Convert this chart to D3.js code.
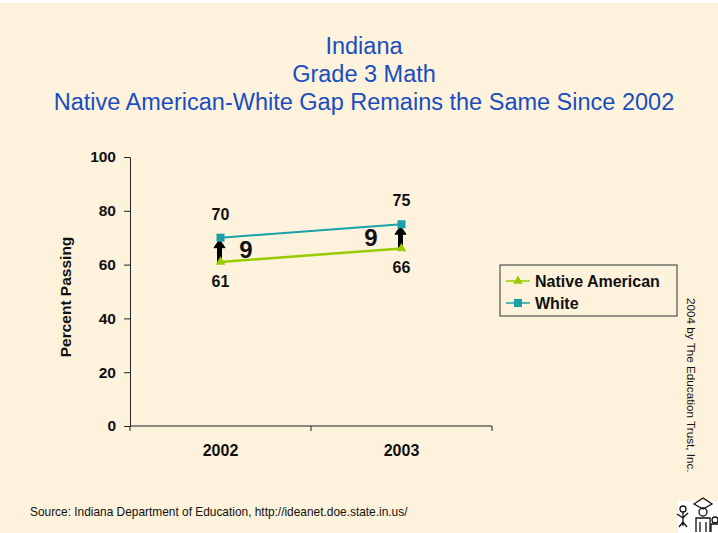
<!DOCTYPE html>
<html>
<head>
<meta charset="utf-8">
<script src="https://cdn.jsdelivr.net/npm/d3@7"></script>
<style>
  body { margin: 0; background: #fff; }
  text { font-family: Arial, "Liberation Sans", sans-serif; }
</style>
</head>
<body>
<script>
const years = ["2002", "2003"];
const nativeAmerican = [61, 66];
const white = [70, 75];
const gaps = [9, 9];
const yTicks = [0, 20, 40, 60, 80, 100];
const titleLines = ["Indiana", "Grade 3 Math", "Native American-White Gap Remains the Same Since 2002"];

const W = 718, H = 533;
const svg = d3.select("body").append("svg")
  .attr("width", W)
  .attr("height", H);

svg.append("rect")
  .attr("x", 0).attr("y", 3)
  .attr("width", W).attr("height", H - 3)
  .attr("fill", "#fdf3dc");

// title
svg.selectAll(".title")
  .data(titleLines)
  .enter().append("text")
  .attr("class", "title")
  .attr("x", 364)
  .attr("y", (d, i) => 54 + i * 28)
  .attr("text-anchor", "middle")
  .style("font-size", "23.5px")
  .style("fill", "#1a4dbf")
  .text(d => d);

const x = d3.scaleBand().domain(years).range([130, 492]);
const y = d3.scaleLinear().domain([0, 100]).range([426, 157]);

const g = svg.append("g");

// y axis
g.append("g")
  .attr("transform", "translate(130,0)")
  .call(d3.axisLeft(y).tickValues(yTicks).tickSize(6).tickPadding(8))
  .call(a => a.selectAll("line, path").attr("stroke", "#222"))
  .call(a => a.selectAll("text").style("font-size", "15.5px").style("font-weight", "bold").attr("fill", "#111"));

// x axis
const xAxis = g.append("g")
  .attr("transform", "translate(0,426)")
  .call(d3.axisBottom(x).tickSize(0).tickPadding(19))
  .call(a => a.select("path").attr("d", "M130,0H492").attr("stroke", "#222"))
  .call(a => a.selectAll("text").style("font-size", "16px").style("font-weight", "bold").attr("fill", "#111"));

xAxis.selectAll(".sep")
  .data([130, 311, 492])
  .enter().append("line")
  .attr("x1", d => d).attr("x2", d => d)
  .attr("y1", 0).attr("y2", 5)
  .attr("stroke", "#222");

svg.append("text")
  .attr("transform", "translate(71,297) rotate(-90)")
  .attr("text-anchor", "middle")
  .style("font-size", "15.5px")
  .style("font-weight", "bold")
  .attr("fill", "#111")
  .text("Percent Passing");

const cx = d => x(d) + x.bandwidth() / 2;

// arrows showing gap
const arrows = g.append("g");
years.forEach((yr, i) => {
  const x0 = cx(yr) - 1;
  const yb = y(nativeAmerican[i]);
  const yt = y(white[i]) + 2;
  arrows.append("path")
    .attr("d", `M${x0 - 2},${yb}V${yt + 8}H${x0 - 5.5}L${x0},${yt}L${x0 + 5.5},${yt + 8}H${x0 + 2}V${yb}Z`)
    .attr("fill", "#000").attr("stroke", "#000").attr("stroke-width", 1);
});

const line = d3.line().x((d, i) => cx(years[i])).y(d => y(d));

g.append("path").datum(white)
  .attr("d", line).attr("fill", "none")
  .attr("stroke", "#1aa0a8").attr("stroke-width", 2);
g.append("path").datum(nativeAmerican)
  .attr("d", line).attr("fill", "none")
  .attr("stroke", "#99cc00").attr("stroke-width", 2.5);

g.selectAll(".sq").data(white).enter().append("rect")
  .attr("x", (d, i) => cx(years[i]) - 4)
  .attr("y", d => y(d) - 4)
  .attr("width", 8).attr("height", 8)
  .attr("fill", "#1aa0a8");

const tri = d3.symbol().type(d3.symbolTriangle).size(40);
g.selectAll(".tri").data(nativeAmerican).enter().append("path")
  .attr("d", tri)
  .attr("transform", (d, i) => `translate(${cx(years[i])},${y(d)})`)
  .attr("fill", "#99cc00");

// value labels
const lbl = (val, xx, yy) => g.append("text")
  .attr("x", xx).attr("y", yy)
  .attr("text-anchor", "middle")
  .style("font-size", "16px").style("font-weight", "bold")
  .attr("fill", "#111").text(val);

white.forEach((v, i) => lbl(v, cx(years[i]), y(v) - 18));
nativeAmerican.forEach((v, i) => lbl(v, cx(years[i]), y(v) + 25));

// gap numbers
const gapPos = [[246, 258], [371, 246]];
gaps.forEach((v, i) => {
  g.append("text")
    .attr("x", gapPos[i][0]).attr("y", gapPos[i][1])
    .attr("text-anchor", "middle")
    .style("font-size", "24px").style("font-weight", "bold")
    .attr("fill", "#111").text(v);
});

// legend
const leg = svg.append("g").attr("transform", "translate(500,265)");
leg.append("rect")
  .attr("width", 177).attr("height", 51)
  .attr("fill", "none").attr("stroke", "#333").attr("stroke-width", 1);
const series = [
  { name: "Native American", color: "#99cc00", shape: "tri" },
  { name: "White", color: "#1aa0a8", shape: "sq" }
];
series.forEach((s, i) => {
  const yy = 16 + i * 22;
  leg.append("line").attr("x1", 6).attr("x2", 30).attr("y1", yy).attr("y2", yy)
    .attr("stroke", s.color).attr("stroke-width", 1.5);
  if (s.shape == "tri") {
    leg.append("path").attr("d", tri).attr("transform", `translate(18,${yy})`).attr("fill", s.color);
  } else {
    leg.append("rect").attr("x", 14).attr("y", yy - 4).attr("width", 8).attr("height", 8).attr("fill", s.color);
  }
  leg.append("text").attr("x", 35).attr("y", yy + 6)
    .style("font-size", "16px").style("font-weight", "bold")
    .attr("fill", "#111").text(s.name);
});

// copyright
svg.append("text")
  .attr("transform", "translate(687,298) rotate(90)")
  .style("font-size", "11.7px")
  .attr("fill", "#111")
  .text("2004 by The Education Trust, Inc.");

// source
svg.append("text")
  .attr("x", 30).attr("y", 516)
  .style("font-size", "11.9px")
  .attr("fill", "#111")
  .text("Source: Indiana Department of Education, http://ideanet.doe.state.in.us/");

// logo (rough sketch)
const logo = svg.append("g").attr("transform", "translate(674,494)")
  .attr("fill", "none").attr("stroke", "#111").attr("stroke-width", 1.3);
logo.append("rect").attr("x", 4).attr("y", 7).attr("width", 40).attr("height", 32).attr("fill", "#fff").attr("stroke", "none");
logo.append("circle").attr("cx", 9).attr("cy", 15).attr("r", 3);
logo.append("path").attr("d", "M9,18V32M3,20L9,24L14,19M5,33L9,28L13,33");
logo.append("path").attr("d", "M20,10L29,4L38,10L29,15Z");
logo.append("circle").attr("cx", 29).attr("cy", 18).attr("r", 4);
logo.append("path").attr("d", "M22,38V24H36V38M26,38V28M32,38V28");
logo.append("circle").attr("cx", 41).attr("cy", 26).attr("r", 3);
logo.append("path").attr("d", "M37,38V30H44");
</script>
</body>
</html>
